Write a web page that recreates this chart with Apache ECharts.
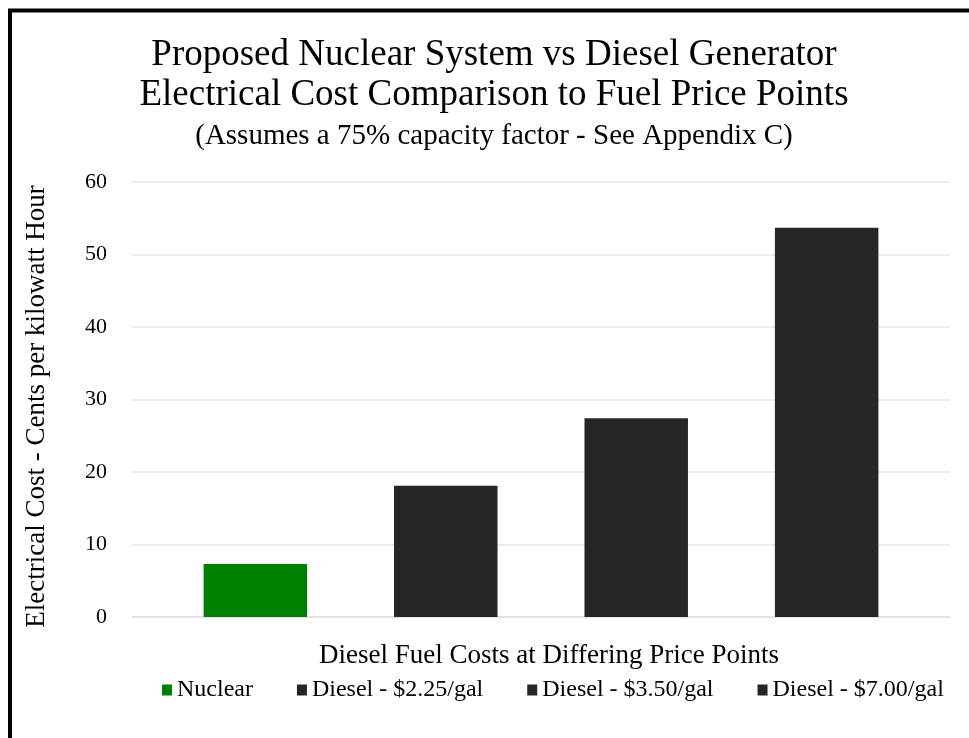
<!DOCTYPE html>
<html>
<head>
<meta charset="utf-8">
<script src="https://cdn.jsdelivr.net/npm/echarts@6/dist/echarts.min.js"></script>
<style>
html,body{margin:0;padding:0;background:#fff;}
#chart{width:969px;height:738px;}
</style>
</head>
<body>
<div id="chart"></div>
<script>
var titleText = 'Proposed Nuclear System vs Diesel Generator\nElectrical Cost Comparison to Fuel Price Points';
var subTitleText = '(Assumes a 75% capacity factor - See Appendix C)';
var yAxisName = 'Electrical Cost - Cents per kilowatt Hour';
var xAxisName = 'Diesel Fuel Costs at Differing Price Points';
var categories = [''];
var seriesNames = ['Nuclear', 'Diesel - $2.25/gal', 'Diesel - $3.50/gal', 'Diesel - $7.00/gal'];
var seriesValues = [7.3, 18.1, 27.4, 53.7];
var seriesColors = ['#008000', '#262626', '#262626', '#262626'];

var FONT = "'Liberation Serif', 'Times New Roman', serif";
var chart = echarts.init(document.getElementById('chart'));
var series = seriesNames.map(function (n, i) {
  return {
    name: n,
    type: 'bar',
    data: [seriesValues[i]],
    barWidth: 103.5,
    barGap: '84%',
    itemStyle: { color: seriesColors[i] },
    emphasis: { disabled: true }
  };
});
chart.setOption({
  animation: false,
  backgroundColor: '#fff',
  textStyle: { fontFamily: FONT, color: '#000' },
  graphic: [{
    type: 'rect',
    shape: { x: 10, y: 10.5, width: 1200, height: 1200 },
    style: { fill: 'none', stroke: '#000', lineWidth: 4 },
    silent: true
  }],
  title: {
    text: titleText,
    subtext: subTitleText,
    left: 489,
    top: 30,
    textAlign: 'center',
    itemGap: 6,
    textStyle: { fontFamily: FONT, fontSize: 37, fontWeight: 'normal', color: '#000', lineHeight: 40 },
    subtextStyle: { fontFamily: FONT, fontSize: 29, color: '#000', lineHeight: 30 }
  },
  legend: {
    data: seriesNames,
    left: 157,
    top: 673,
    width: 900,
    itemWidth: 10,
    itemHeight: 11,
    itemGap: 44,
    icon: 'rect',
    textStyle: { fontFamily: FONT, fontSize: 24, color: '#000' }
  },
  grid: { left: 132, right: 19, top: 182, bottom: 121, containLabel: false },
  xAxis: {
    type: 'category',
    data: categories,
    name: xAxisName,
    nameLocation: 'middle',
    nameGap: 25,
    nameTextStyle: { fontFamily: FONT, fontSize: 27, color: '#000', padding: [0, 0, 0, 16] },
    axisLine: { show: true, lineStyle: { color: '#e0e0e0', width: 1.5 } },
    axisTick: { show: false },
    axisLabel: { show: false }
  },
  yAxis: {
    type: 'value',
    min: 0,
    max: 60,
    interval: 10,
    name: yAxisName,
    nameLocation: 'middle',
    nameGap: 82,
    nameTextStyle: { fontFamily: FONT, fontSize: 27, color: '#000', padding: [0, 14, 0, 0] },
    axisLine: { show: false },
    axisTick: { show: false },
    axisLabel: { fontFamily: FONT, fontSize: 22, color: '#000', margin: 25 },
    splitLine: { lineStyle: { color: '#e6e6e6', width: 1.5 } }
  },
  series: series
});
</script>
</body>
</html>
